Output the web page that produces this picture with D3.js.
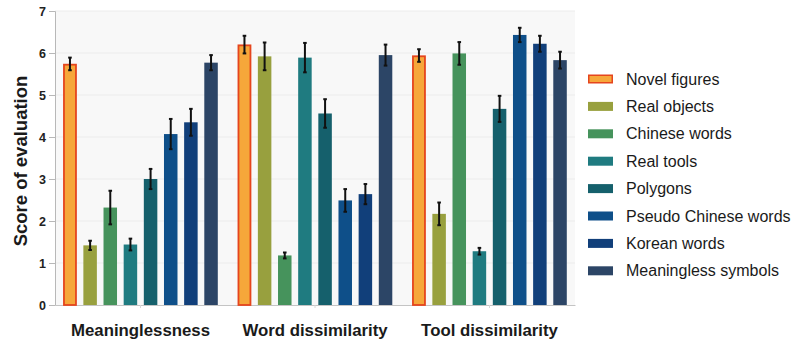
<!DOCTYPE html>
<html>
<head>
<meta charset="utf-8">
<script src="https://cdn.jsdelivr.net/npm/d3@7"></script>
<style>
  html, body { margin: 0; padding: 0; background: #ffffff; }
  svg { display: block; font-family: "Liberation Sans", Arial, Helvetica, sans-serif; }
</style>
</head>
<body>
<svg id="chart" width="810" height="340"></svg>
<script>
// Evaluation dimensions (x groups)
const groups = ["Meaninglessness", "Word dissimilarity", "Tool dissimilarity"];

// Stimulus types (series)
const seriesNames = ["Novel figures", "Real objects", "Chinese words", "Real tools",
                     "Polygons", "Pseudo Chinese words", "Korean words", "Meaningless symbols"];

// Mean scores per series, ordered as in `groups`
const novelFigures       = [5.74, 6.20, 5.94];
const realObjects        = [1.42, 5.92, 2.17];
const chineseWords       = [2.32, 1.18, 5.99];
const realTools          = [1.44, 5.89, 1.28];
const polygons           = [3.00, 4.56, 4.67];
const pseudoChineseWords = [4.07, 2.49, 6.43];
const koreanWords        = [4.35, 2.64, 6.22];
const meaninglessSymbols = [5.77, 5.95, 5.83];

// Error bar half-widths per series
const errNovelFigures       = [0.15, 0.21, 0.15];
const errRealObjects        = [0.11, 0.33, 0.27];
const errChineseWords       = [0.40, 0.07, 0.27];
const errRealTools          = [0.14, 0.35, 0.08];
const errPolygons           = [0.24, 0.34, 0.31];
const errPseudoChineseWords = [0.36, 0.27, 0.17];
const errKoreanWords        = [0.32, 0.24, 0.19];
const errMeaninglessSymbols = [0.18, 0.25, 0.20];

const yTicks = [0, 1, 2, 3, 4, 5, 6, 7];

const seriesValues = [novelFigures, realObjects, chineseWords, realTools,
                      polygons, pseudoChineseWords, koreanWords, meaninglessSymbols];
const seriesErrors = [errNovelFigures, errRealObjects, errChineseWords, errRealTools,
                      errPolygons, errPseudoChineseWords, errKoreanWords, errMeaninglessSymbols];

const colors = ["#f6a73a", "#98a03e", "#46935c", "#1f7b80",
                "#15606c", "#0e4f89", "#113f7a", "#2c4566"];

const svg = d3.select("#chart");

const plot = { left: 55, right: 575, top: 11, bottom: 305 };

const y = d3.scaleLinear().domain([0, 7]).range([plot.bottom, plot.top]);

const x0 = d3.scaleBand().domain(groups)
  .range([plot.left, plot.right])
  .paddingInner(0.076).paddingOuter(0.028);

const x1 = d3.scaleBand().domain(seriesNames)
  .range([0, x0.bandwidth()])
  .paddingInner(0.33).paddingOuter(0.165);

// Plot background
svg.append("rect")
  .attr("x", plot.left).attr("y", plot.top)
  .attr("width", plot.right - plot.left).attr("height", plot.bottom - plot.top)
  .attr("fill", "#f8f8f8");

// Horizontal gridlines
svg.append("g").selectAll("line")
  .data(yTicks.filter(d => d > 0))
  .join("line")
  .attr("x1", plot.left).attr("x2", plot.right)
  .attr("y1", d => y(d)).attr("y2", d => y(d))
  .attr("stroke", "#ececec").attr("stroke-width", 1);

// Y axis
const yAxis = svg.append("g")
  .attr("transform", `translate(${plot.left},0)`)
  .call(d3.axisLeft(y).tickValues(yTicks).tickSize(6).tickPadding(3).tickFormat(d3.format("d")));
yAxis.select(".domain").attr("stroke", "#b8b8b8");
yAxis.selectAll(".tick line").attr("stroke", "#b8b8b8");
yAxis.selectAll(".tick text")
  .attr("font-size", 12.5).attr("font-weight", "bold").attr("fill", "#222");

// X axis
const xAxis = svg.append("g")
  .attr("transform", `translate(0,${plot.bottom})`)
  .call(d3.axisBottom(x0).tickSize(3).tickSizeOuter(0).tickPadding(10));
xAxis.select(".domain").attr("stroke", "#c4c4c4");
xAxis.selectAll(".tick line").attr("stroke", "#d8d8d8");
xAxis.selectAll(".tick text")
  .attr("font-size", 16.8).attr("font-weight", "bold").attr("fill", "#1a1a1a")
  .attr("dy", "1.05em");

// Y axis title
svg.append("text")
  .attr("transform", `translate(27,${(plot.top + plot.bottom) / 2 + 3}) rotate(-90)`)
  .attr("text-anchor", "middle")
  .attr("font-size", 18.5).attr("font-weight", "bold").attr("fill", "#1a1a1a")
  .text("Score of evaluation");

// Bars and error bars
const cells = [];
groups.forEach((g, gi) => {
  seriesNames.forEach((s, si) => {
    cells.push({ group: g, series: s, si, value: seriesValues[si][gi], err: seriesErrors[si][gi] });
  });
});

const groupG = svg.append("g");

groupG.selectAll("rect.bar")
  .data(cells)
  .join("rect")
  .attr("class", "bar")
  .attr("x", d => x0(d.group) + x1(d.series) + (d.si === 0 ? 0.75 : 0))
  .attr("y", d => y(d.value) + (d.si === 0 ? 0.75 : 0))
  .attr("width", d => x1.bandwidth() - (d.si === 0 ? 1.5 : 0))
  .attr("height", d => y(0) - y(d.value) - (d.si === 0 ? 0.75 : 0))
  .attr("fill", d => colors[d.si])
  .attr("stroke", d => d.si === 0 ? "#e5451d" : "none")
  .attr("stroke-width", 1.8);

const eb = groupG.selectAll("g.err")
  .data(cells)
  .join("g")
  .attr("class", "err")
  .attr("transform", d => `translate(${x0(d.group) + x1(d.series) + x1.bandwidth() / 2},0)`);

eb.append("line")
  .attr("y1", d => y(d.value - d.err)).attr("y2", d => y(d.value + d.err))
  .attr("stroke", "#111").attr("stroke-width", 2);
eb.append("line")
  .attr("x1", -1.8).attr("x2", 1.8)
  .attr("y1", d => y(d.value + d.err)).attr("y2", d => y(d.value + d.err))
  .attr("stroke", "#111").attr("stroke-width", 2);
eb.append("line")
  .attr("x1", -1.8).attr("x2", 1.8)
  .attr("y1", d => y(d.value - d.err)).attr("y2", d => y(d.value - d.err))
  .attr("stroke", "#111").attr("stroke-width", 2);

// Legend
const legend = svg.append("g").attr("transform", "translate(588,79)");
const rowH = 27.4;
const item = legend.selectAll("g")
  .data(seriesNames)
  .join("g")
  .attr("transform", (d, i) => `translate(0,${i * rowH})`);

item.append("rect")
  .attr("x", (d, i) => i === 0 ? 0.75 : 0)
  .attr("y", (d, i) => -4.5 + (i === 0 ? 0.75 : 0))
  .attr("width", (d, i) => 25 - (i === 0 ? 1.5 : 0))
  .attr("height", (d, i) => 9 - (i === 0 ? 1.5 : 0))
  .attr("fill", (d, i) => colors[i])
  .attr("stroke", (d, i) => i === 0 ? "#e5451d" : "none")
  .attr("stroke-width", 1.5);

item.append("text")
  .attr("x", 38).attr("y", 0).attr("dy", "0.35em")
  .attr("font-size", 16).attr("fill", "#1a1a1a")
  .text(d => d);
</script>
</body>
</html>
